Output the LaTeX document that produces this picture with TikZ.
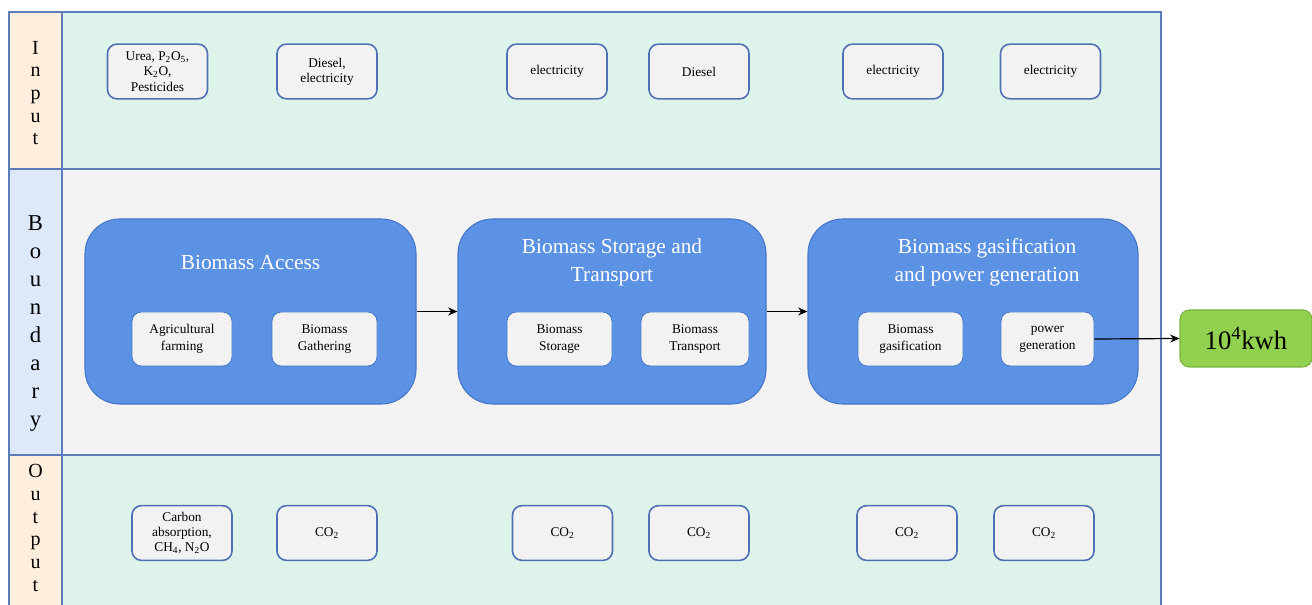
\documentclass[tikz,border=0pt]{standalone}
\usepackage{fontspec}
\setmainfont{Liberation Serif}
\usetikzlibrary{arrows.meta}
\definecolor{lanegreen}{RGB}{222,244,234}
\definecolor{lanegray}{RGB}{242,242,242}
\definecolor{lanepeach}{RGB}{253,238,221}
\definecolor{laneblue}{RGB}{221,233,248}
\definecolor{laneline}{RGB}{92,124,186}
\definecolor{boxline}{RGB}{80,112,180}
\definecolor{boxfill}{RGB}{242,242,242}
\definecolor{bigfill}{RGB}{92,146,227}
\definecolor{bigline}{RGB}{70,118,200}
\definecolor{kwhgreen}{RGB}{146,208,80}
\definecolor{kwhline}{RGB}{120,180,60}
\tikzset{
  lane/.style={draw=laneline, line width=1pt},
  vlabel/.style={align=center, font=\fontsize{15}{17}\selectfont, inner sep=0pt},
  iobox/.style={draw=boxline, line width=1.2pt, fill=boxfill, rounded corners=7pt,
    minimum width=75pt, minimum height=41pt, align=center, inner sep=1pt,
    font=\fontsize{10}{11.5}\selectfont},
  inbox/.style={draw=bigline, line width=0.6pt, fill=boxfill, rounded corners=7pt,
    minimum height=40.5pt, align=center, inner sep=1pt,
    font=\fontsize{10}{12.5}\selectfont},
  bigbox/.style={draw=bigline, line width=0.8pt, fill=bigfill, rounded corners=26pt,
    minimum height=138.75pt},
  title/.style={text=white, align=center, font=\fontsize{16}{21}\selectfont, inner sep=0pt},
  arr/.style={-{Stealth[length=7pt,width=6pt]}, line width=0.9pt, black}
}
\begin{document}
\begin{tikzpicture}[x=0.75pt,y=-0.75pt]
\useasboundingbox (0,0) rectangle (1312,605);
\clip (0,0) rectangle (1312,605);
% lanes
\draw[lane, fill=lanegreen] (62,12) rectangle (1161,169);
\draw[lane, fill=lanepeach] (9,12) rectangle (62,169);
\draw[lane, fill=lanegray] (62,169) rectangle (1161,455);
\draw[lane, fill=laneblue] (9,169) rectangle (62,455);
\draw[lane, fill=lanegreen] (62,455) rectangle (1161,640);
\draw[lane, fill=lanepeach] (9,455) rectangle (62,640);
% lane labels
\node[vlabel] (linput) at (35.5,93) {I\\n\\p\\u\\t};
\node[vlabel, font=\fontsize{17}{21}\selectfont] (lbound) at (35.5,324) {B\\o\\u\\n\\d\\a\\r\\y};
\node[vlabel] (loutput) at (35.5,528) {O\\u\\t\\p\\u\\t};
% inputs
\node[iobox] (i1) at (157.5,71.5) {Urea, P\textsubscript{2}O\textsubscript{5},\\K\textsubscript{2}O,\\Pesticides};
\node[iobox] (i2) at (327,71.5) {Diesel,\\electricity};
\node[iobox] (i3) at (557,71.5) {electricity};
\node[iobox] (i4) at (699,71.5) {Diesel};
\node[iobox] (i5) at (893,71.5) {electricity};
\node[iobox] (i6) at (1050.5,71.5) {electricity};
% outputs
\node[iobox] (o1) at (182,533) {Carbon\\absorption,\\CH\textsubscript{4}, N\textsubscript{2}O};
\node[iobox] (o2) at (327,533) {CO\textsubscript{2}};
\node[iobox] (o3) at (562.5,533) {CO\textsubscript{2}};
\node[iobox] (o4) at (699,533) {CO\textsubscript{2}};
\node[iobox] (o5) at (907,533) {CO\textsubscript{2}};
\node[iobox] (o6) at (1044,533) {CO\textsubscript{2}};
% big boxes
\node[bigbox, minimum width=248.25pt] (b1) at (250.5,311.5) {};
\node[bigbox, minimum width=231pt] (b2) at (612,311.5) {};
\node[bigbox, minimum width=247.5pt] (b3) at (973,311.5) {};
\node[title] (t1) at (250.5,263) {Biomass Access};
\node[title] (t2) at (612,262) {Biomass Storage and\\Transport};
\node[title] (t3) at (987,262) {Biomass gasification\\and power generation};
% inner boxes
\node[inbox, minimum width=75pt] (a1) at (182,339) {Agricultural\\farming};
\node[inbox, minimum width=78.75pt] (a2) at (324.5,339) {Biomass\\Gathering};
\node[inbox, minimum width=78.75pt] (s1) at (559.5,339) {Biomass\\Storage};
\node[inbox, minimum width=81pt] (s2) at (695,339) {Biomass\\Transport};
\node[inbox, minimum width=78.75pt] (g1) at (910.5,339) {Biomass\\gasification};
\node[inbox, minimum width=69.75pt] (g2) at (1047.5,339) {power\\generation};
% output energy
\node[draw=kwhline, line width=0.8pt, fill=kwhgreen, rounded corners=7pt,
  minimum width=99pt, minimum height=42.75pt, font=\fontsize{20}{24}\selectfont] (kwh) at (1246,338.5) {10\textsuperscript{4}kwh};
% arrows
\draw[arr] (b1.east) -- (b2.west);
\draw[arr] (b2.east) -- (b3.west);
\draw[arr] (g2.east) -- (kwh.west);
\end{tikzpicture}
\end{document}
